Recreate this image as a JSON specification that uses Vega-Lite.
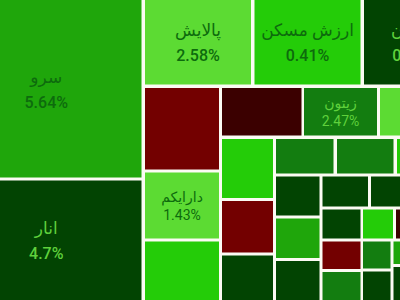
{
  "$schema": "https://vega.github.io/schema/vega-lite/v6.json",
  "width": 400,
  "height": 300,
  "autosize": {"type": "fit", "contains": "padding"},
  "padding": 0,
  "background": "#fbfbf3",
  "config": {"view": {"stroke": null}},
  "data": {
    "values": [
      {"name": "سرو", "chg": 0.0564, "tone": "m", "size": "big", "x0": -49, "x1": 141.5, "y0": 0, "y1": 177.5},
      {"name": "انار", "chg": 0.047, "tone": "d", "size": "big", "x0": -49, "x1": 141.5, "y0": 180.5, "y1": 300},
      {"name": "پالایش", "chg": 0.0258, "tone": "l", "size": "big", "x0": 145, "x1": 251, "y0": 0, "y1": 84.5},
      {"name": "ارزش مسکن", "chg": 0.0041, "tone": "b", "size": "big", "x0": 254.5, "x1": 360.5, "y0": 0, "y1": 84.5},
      {"name": "شیران", "chg": 0.0035, "tone": "d", "size": "big", "x0": 364, "x1": 464, "y0": 0, "y1": 84.5},
      {"name": null, "chg": null, "tone": "r", "size": null, "x0": 145, "x1": 219, "y0": 88, "y1": 169.5},
      {"name": null, "chg": null, "tone": "k", "size": null, "x0": 222, "x1": 301.5, "y0": 88, "y1": 135.5},
      {"name": "زیتون", "chg": 0.0247, "tone": "z", "size": "small", "x0": 304, "x1": 377, "y0": 88, "y1": 135.5},
      {"name": null, "chg": null, "tone": "l", "size": null, "x0": 380, "x1": 430, "y0": 88, "y1": 135.5},
      {"name": "دارایکم", "chg": 0.0143, "tone": "l", "size": "small", "x0": 145, "x1": 219, "y0": 172.5, "y1": 238.5},
      {"name": null, "chg": null, "tone": "b", "size": null, "x0": 145, "x1": 219, "y0": 241.5, "y1": 300},
      {"name": null, "chg": null, "tone": "b", "size": null, "x0": 222, "x1": 273, "y0": 139, "y1": 198},
      {"name": null, "chg": null, "tone": "r", "size": null, "x0": 222, "x1": 273, "y0": 201, "y1": 252.5},
      {"name": null, "chg": null, "tone": "d", "size": null, "x0": 222, "x1": 273, "y0": 255.5, "y1": 300},
      {"name": null, "chg": null, "tone": "z", "size": null, "x0": 276, "x1": 333.5, "y0": 139, "y1": 173.5},
      {"name": null, "chg": null, "tone": "z", "size": null, "x0": 337, "x1": 393.5, "y0": 139, "y1": 173.5},
      {"name": null, "chg": null, "tone": "b", "size": null, "x0": 397, "x1": 430, "y0": 139, "y1": 173.5},
      {"name": null, "chg": null, "tone": "d", "size": null, "x0": 276, "x1": 319.5, "y0": 176.5, "y1": 215.5},
      {"name": null, "chg": null, "tone": "d", "size": null, "x0": 322.5, "x1": 368, "y0": 176.5, "y1": 206.5},
      {"name": null, "chg": null, "tone": "d", "size": null, "x0": 371, "x1": 430, "y0": 176.5, "y1": 206.5},
      {"name": null, "chg": null, "tone": "m", "size": null, "x0": 276, "x1": 319.5, "y0": 218.5, "y1": 258},
      {"name": null, "chg": null, "tone": "d", "size": null, "x0": 276, "x1": 319.5, "y0": 261, "y1": 300},
      {"name": null, "chg": null, "tone": "d", "size": null, "x0": 322.5, "x1": 360.5, "y0": 209.5, "y1": 238.5},
      {"name": null, "chg": null, "tone": "b", "size": null, "x0": 363, "x1": 393, "y0": 209.5, "y1": 238.5},
      {"name": null, "chg": null, "tone": "k", "size": null, "x0": 396, "x1": 430, "y0": 209.5, "y1": 238.5},
      {"name": null, "chg": null, "tone": "r", "size": null, "x0": 322.5, "x1": 360.5, "y0": 241.5, "y1": 269},
      {"name": null, "chg": null, "tone": "z", "size": null, "x0": 363, "x1": 390.5, "y0": 241.5, "y1": 268.5},
      {"name": null, "chg": null, "tone": "m", "size": null, "x0": 393.5, "x1": 430, "y0": 241.5, "y1": 264},
      {"name": null, "chg": null, "tone": "d", "size": null, "x0": 393.5, "x1": 430, "y0": 267, "y1": 300},
      {"name": null, "chg": null, "tone": "z", "size": null, "x0": 322.5, "x1": 360.5, "y0": 272, "y1": 300},
      {"name": null, "chg": null, "tone": "d", "size": null, "x0": 363, "x1": 390.5, "y0": 271.5, "y1": 300}
    ]
  },
  "layer": [
    {
      "mark": {"type": "rect", "clip": true},
      "encoding": {
        "x": {"field": "x0", "type": "quantitative", "scale": {"domain": [0, 400], "nice": false, "zero": false}, "axis": null},
        "x2": {"field": "x1"},
        "y": {"field": "y0", "type": "quantitative", "scale": {"domain": [0, 300], "nice": false, "zero": false, "reverse": true}, "axis": null},
        "y2": {"field": "y1"},
        "color": {
          "field": "tone", "type": "nominal", "legend": null,
          "scale": {"domain": ["m", "d", "l", "b", "z", "r", "k"], "range": ["#1fa60b", "#024402", "#5cdb33", "#24cc08", "#137d10", "#730000", "#3b0000"]}
        }
      }
    },
    {
      "transform": [
        {"filter": "datum.name != null"},
        {"fold": ["x0", "x1"], "as": ["kx", "xv"]},
        {"fold": ["y0", "y1"], "as": ["ky", "yv"]},
        {"aggregate": [{"op": "mean", "field": "xv", "as": "cx"}, {"op": "mean", "field": "yv", "as": "cy"}], "groupby": ["name", "chg", "tone", "size"]}
      ],
      "layer": [
        {
          "transform": [{"filter": "datum.size == 'big'"}],
          "mark": {"type": "text", "clip": true, "font": "Roboto, DejaVu Sans, sans-serif", "fontSize": 17, "dy": -11, "baseline": "middle", "align": "center"},
          "encoding": {
            "x": {"field": "cx", "type": "quantitative"},
            "y": {"field": "cy", "type": "quantitative"},
            "text": {"field": "name"},
            "color": {"condition": {"test": "datum.tone == 'd' || datum.tone == 'z'", "value": "#5fd13c"}, "value": "#0d6b0d"}
          }
        },
        {
          "transform": [{"filter": "datum.size == 'big'"}],
          "mark": {"type": "text", "clip": true, "font": "Roboto, DejaVu Sans, sans-serif", "fontSize": 16, "fontWeight": 500, "dy": 14, "baseline": "middle", "align": "center"},
          "encoding": {
            "x": {"field": "cx", "type": "quantitative"},
            "y": {"field": "cy", "type": "quantitative"},
            "text": {"field": "chg", "type": "quantitative", "format": ".2~%"},
            "color": {"condition": {"test": "datum.tone == 'd' || datum.tone == 'z'", "value": "#5fd13c"}, "value": "#0d6b0d"}
          }
        },
        {
          "transform": [{"filter": "datum.size == 'small'"}],
          "mark": {"type": "text", "clip": true, "font": "Roboto, DejaVu Sans, sans-serif", "fontSize": 14, "dy": -8, "baseline": "middle", "align": "center"},
          "encoding": {
            "x": {"field": "cx", "type": "quantitative"},
            "y": {"field": "cy", "type": "quantitative"},
            "text": {"field": "name"},
            "color": {"condition": {"test": "datum.tone == 'd' || datum.tone == 'z'", "value": "#5fd13c"}, "value": "#0d6b0d"}
          }
        },
        {
          "transform": [{"filter": "datum.size == 'small'"}],
          "mark": {"type": "text", "clip": true, "font": "Roboto, DejaVu Sans, sans-serif", "fontSize": 14, "dy": 10, "baseline": "middle", "align": "center"},
          "encoding": {
            "x": {"field": "cx", "type": "quantitative"},
            "y": {"field": "cy", "type": "quantitative"},
            "text": {"field": "chg", "type": "quantitative", "format": ".2~%"},
            "color": {"condition": {"test": "datum.tone == 'd' || datum.tone == 'z'", "value": "#5fd13c"}, "value": "#0d6b0d"}
          }
        }
      ]
    }
  ]
}
